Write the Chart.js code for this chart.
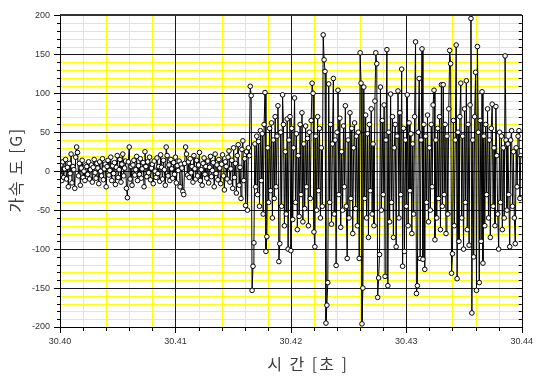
<!DOCTYPE html>
<html><head><meta charset="utf-8">
<script src="https://cdn.jsdelivr.net/npm/chart.js@4.4.0/dist/chart.umd.min.js"></script>
<style>html,body{margin:0;padding:0;background:#fff;}</style>
</head><body>
<canvas id="c" width="542" height="378" style="display:block;width:542px;height:378px"></canvas>
<script>
const startTime = 30.40;
const sampleStep = 0.00008;
const quietValues = [
-5,8,-12,12,-8,3,15,-10,5,-20,10,-3,22,-15,6,2,-22,18,31,24,
-6,10,-18,4,14,-8,0,-12,8,6,-4,12,-10,2,8,-14,5,15,-2,-9,
10,4,-16,12,0,-6,16,-11,3,9,-20,6,14,-5,1,18,-12,7,-3,11,
-17,5,20,-8,2,15,-14,9,22,-6,4,13,-22,-34,12,31,-10,6,-18,8,
14,-5,2,19,-12,7,-4,16,-9,3,11,-20,25,6,-7,12,-2,18,-11,4,
9,-16,13,0,-8,17,-3,6,-13,21,5,-10,14,2,-18,31,20,-6,8,-12,
15,3,-9,11,-4,18,-15,7,1,13,-20,9,4,-26,-30,10,31,22,-5,12,
-8,16,-2,6,-14,20,3,-10,14,-6,8,24,-12,2,-18,10,17,-4,6,-9,
13,-15,5,19,-7,1,11,-20,22,-3,8,-11,15,4,-16,9,21,-6,-24,12,
6,-10,18,26,-14,3,14,-22,30,-8,10,-28,20,34,-18,5,-35,28,39,-12,
16,-44,25,-50,30];
const burstValues = [
20,109,97,-153,-122,-92,35,-20,45,-30,
38,-45,52,-12,48,-55,60,101,-103,-84,
30,-40,55,-25,62,-60,40,-35,70,-20,
45,84,-116,-93,50,-45,98,60,-70,25,
-55,67,-100,40,70,-102,55,-62,30,94,
-40,48,-75,20,-58,60,-30,75,-65,35,
-48,58,-20,42,-70,50,-35,65,113,100,
-78,-97,45,-50,70,-25,55,-60,30,-45,
175,143,128,-195,-172,-143,112,-40,60,-68,
35,119,-55,40,-121,50,104,-30,68,-72,
25,-50,58,-20,84,-45,-112,40,-60,75,
-35,55,-80,30,62,-48,45,-70,50,-112,
152,113,-196,-150,108,-35,72,-60,48,-85,
60,-25,80,-55,35,-70,90,152,138,-162,
-137,-107,108,-50,65,-30,85,-135,40,156,
-147,50,-65,99,-40,70,-85,30,60,-97,
45,103,-60,75,-30,131,-122,55,-103,40,
-45,98,-70,62,-25,48,-80,35,-55,70,
166,-157,-147,50,119,-112,40,157,-113,60,
-126,45,-40,72,-65,30,-50,60,-20,85,
104,-88,40,-60,55,-35,70,-75,111,-45,
111,-30,60,-80,45,-55,80,155,138,-131,
-106,65,-70,40,162,-138,50,-90,70,113,
-60,45,-100,80,-40,116,-75,60,-95,85,
196,-182,40,-110,70,127,-153,160,50,-143,
65,-90,102,-118,45,-70,60,-30,80,-60,
40,-85,55,86,-45,30,-70,83,20,-55,
-100,50,-40,45,-75,30,-60,148,40,-50,
35,-30,-97,40,52,-45,25,-60,-93,30,
-20,45,52,-35,20];
const xTickLabels = ['30.40','30.41','30.42','30.43','30.44'];
const yTickLabels = [-200,-150,-100,-50,0,50,100,150,200];
const xAxisTitle = '시 간 [초 ]';
const yAxisTitle = '가속 도 [G]';

const allValues = quietValues.concat(burstValues);
const points = allValues.map((v, i) => ({x: startTime + i * sampleStep, y: v}));

function isMajorX(v){ const s = v.toFixed(2); return Math.abs(v*100 - Math.round(v*100)) < 1e-4 && xTickLabels.includes(s); }
function isMajorY(v){ return yTickLabels.includes(Math.round(v)) && Math.abs(v - Math.round(v)) < 1e-6; }

const gridPlugin = {
  id: 'gridPlugin',
  beforeDatasetsDraw(chart){
    const ctx = chart.ctx, a = chart.chartArea;
    const xs = chart.scales.x, ys = chart.scales.y;
    ctx.save();
    ctx.lineWidth = 1;
    const pass = (major, color) => {
      ctx.strokeStyle = color;
      ctx.beginPath();
      xs.ticks.forEach(t => {
        if (isMajorX(t.value) !== major) return;
        const x = Math.round(xs.getPixelForValue(t.value)) + 0.5;
        ctx.moveTo(x, a.top); ctx.lineTo(x, a.bottom);
      });
      ys.ticks.forEach(t => {
        if (isMajorY(t.value) !== major) return;
        const y = Math.round(ys.getPixelForValue(t.value)) + 0.5;
        ctx.moveTo(a.left, y); ctx.lineTo(a.right, y);
      });
      ctx.stroke();
    };
    pass(false, '#ffff00');
    pass(true, '#1a1a1a');
    ctx.restore();
  }
};

const decor = {
  id: 'decor',
  afterDraw(chart){
    const ctx = chart.ctx, a = chart.chartArea;
    const xs = chart.scales.x, ys = chart.scales.y;
    ctx.save();
    ctx.strokeStyle = '#000';
    ctx.lineWidth = 1;
    ctx.beginPath();
    ys.ticks.forEach(t => {
      const y = Math.round(ys.getPixelForValue(t.value)) + 0.5;
      const len = isMajorY(t.value) ? 6 : 3;
      ctx.moveTo(a.left - len, y); ctx.lineTo(a.left, y);
      ctx.moveTo(a.right, y); ctx.lineTo(a.right - len, y);
    });
    xs.ticks.forEach(t => {
      const x = Math.round(xs.getPixelForValue(t.value)) + 0.5;
      const len = isMajorX(t.value) ? 6 : 4;
      ctx.moveTo(x, a.bottom); ctx.lineTo(x, a.bottom + len);
    });
    ctx.stroke();
    ctx.strokeRect(Math.round(a.left)+0.5, Math.round(a.top)+0.5, Math.round(a.right-a.left), Math.round(a.bottom-a.top));
    ctx.lineWidth = 2;
    ctx.strokeStyle = '#333';
    ctx.beginPath(); ctx.moveTo(a.left, Math.round(a.top)); ctx.lineTo(a.right, Math.round(a.top)); ctx.stroke();
    ctx.fillStyle = '#3c3c3c';
    ctx.font = '16px "Noto Sans CJK KR"';
    ctx.letterSpacing = '2px';
    ctx.textAlign = 'center'; ctx.textBaseline = 'middle';
    ctx.fillText(xAxisTitle, 308, 364);
    ctx.letterSpacing = '1.5px';
    ctx.translate(16, 170);
    ctx.rotate(-Math.PI/2);
    ctx.fillText(yAxisTitle, 0, 0);
    ctx.restore();
  }
};

new Chart(document.getElementById('c'), {
  type: 'line',
  data: { datasets: [{
    data: points,
    borderColor: '#000',
    borderWidth: 1,
    pointRadius: 2.3,
    pointBorderWidth: 1,
    pointBackgroundColor: '#fff',
    pointBorderColor: '#000',
    tension: 0,
    fill: false
  }]},
  options: {
    responsive: false,
    animation: false,
    events: [],
    layout: { padding: { left: 0, top: 9, right: 11, bottom: 0 } },
    plugins: { legend: { display: false }, tooltip: { enabled: false } },
    scales: {
      x: {
        type: 'linear', min: 30.40, max: 30.44,
        afterFit(s){ s.height = 51; },
        border: { display: false },
        grid: { display: false, drawTicks: false },
        ticks: {
          stepSize: 0.002, autoSkip: false, maxRotation: 0, padding: 9,
          color: '#333', font: { family: 'Liberation Sans, Arial', size: 9 },
          callback: v => isMajorX(v) ? v.toFixed(2) : ''
        }
      },
      y: {
        type: 'linear', min: -200, max: 200,
        afterFit(s){ s.width = 60; },
        border: { display: false },
        grid: { display: false, drawTicks: false },
        ticks: {
          stepSize: 10, autoSkip: false, padding: 10,
          color: '#333', font: { family: 'Liberation Sans, Arial', size: 9 },
          callback: v => isMajorY(v) ? String(Math.round(v)) : ''
        }
      }
    }
  },
  plugins: [gridPlugin, decor]
});
</script>
</body></html>
